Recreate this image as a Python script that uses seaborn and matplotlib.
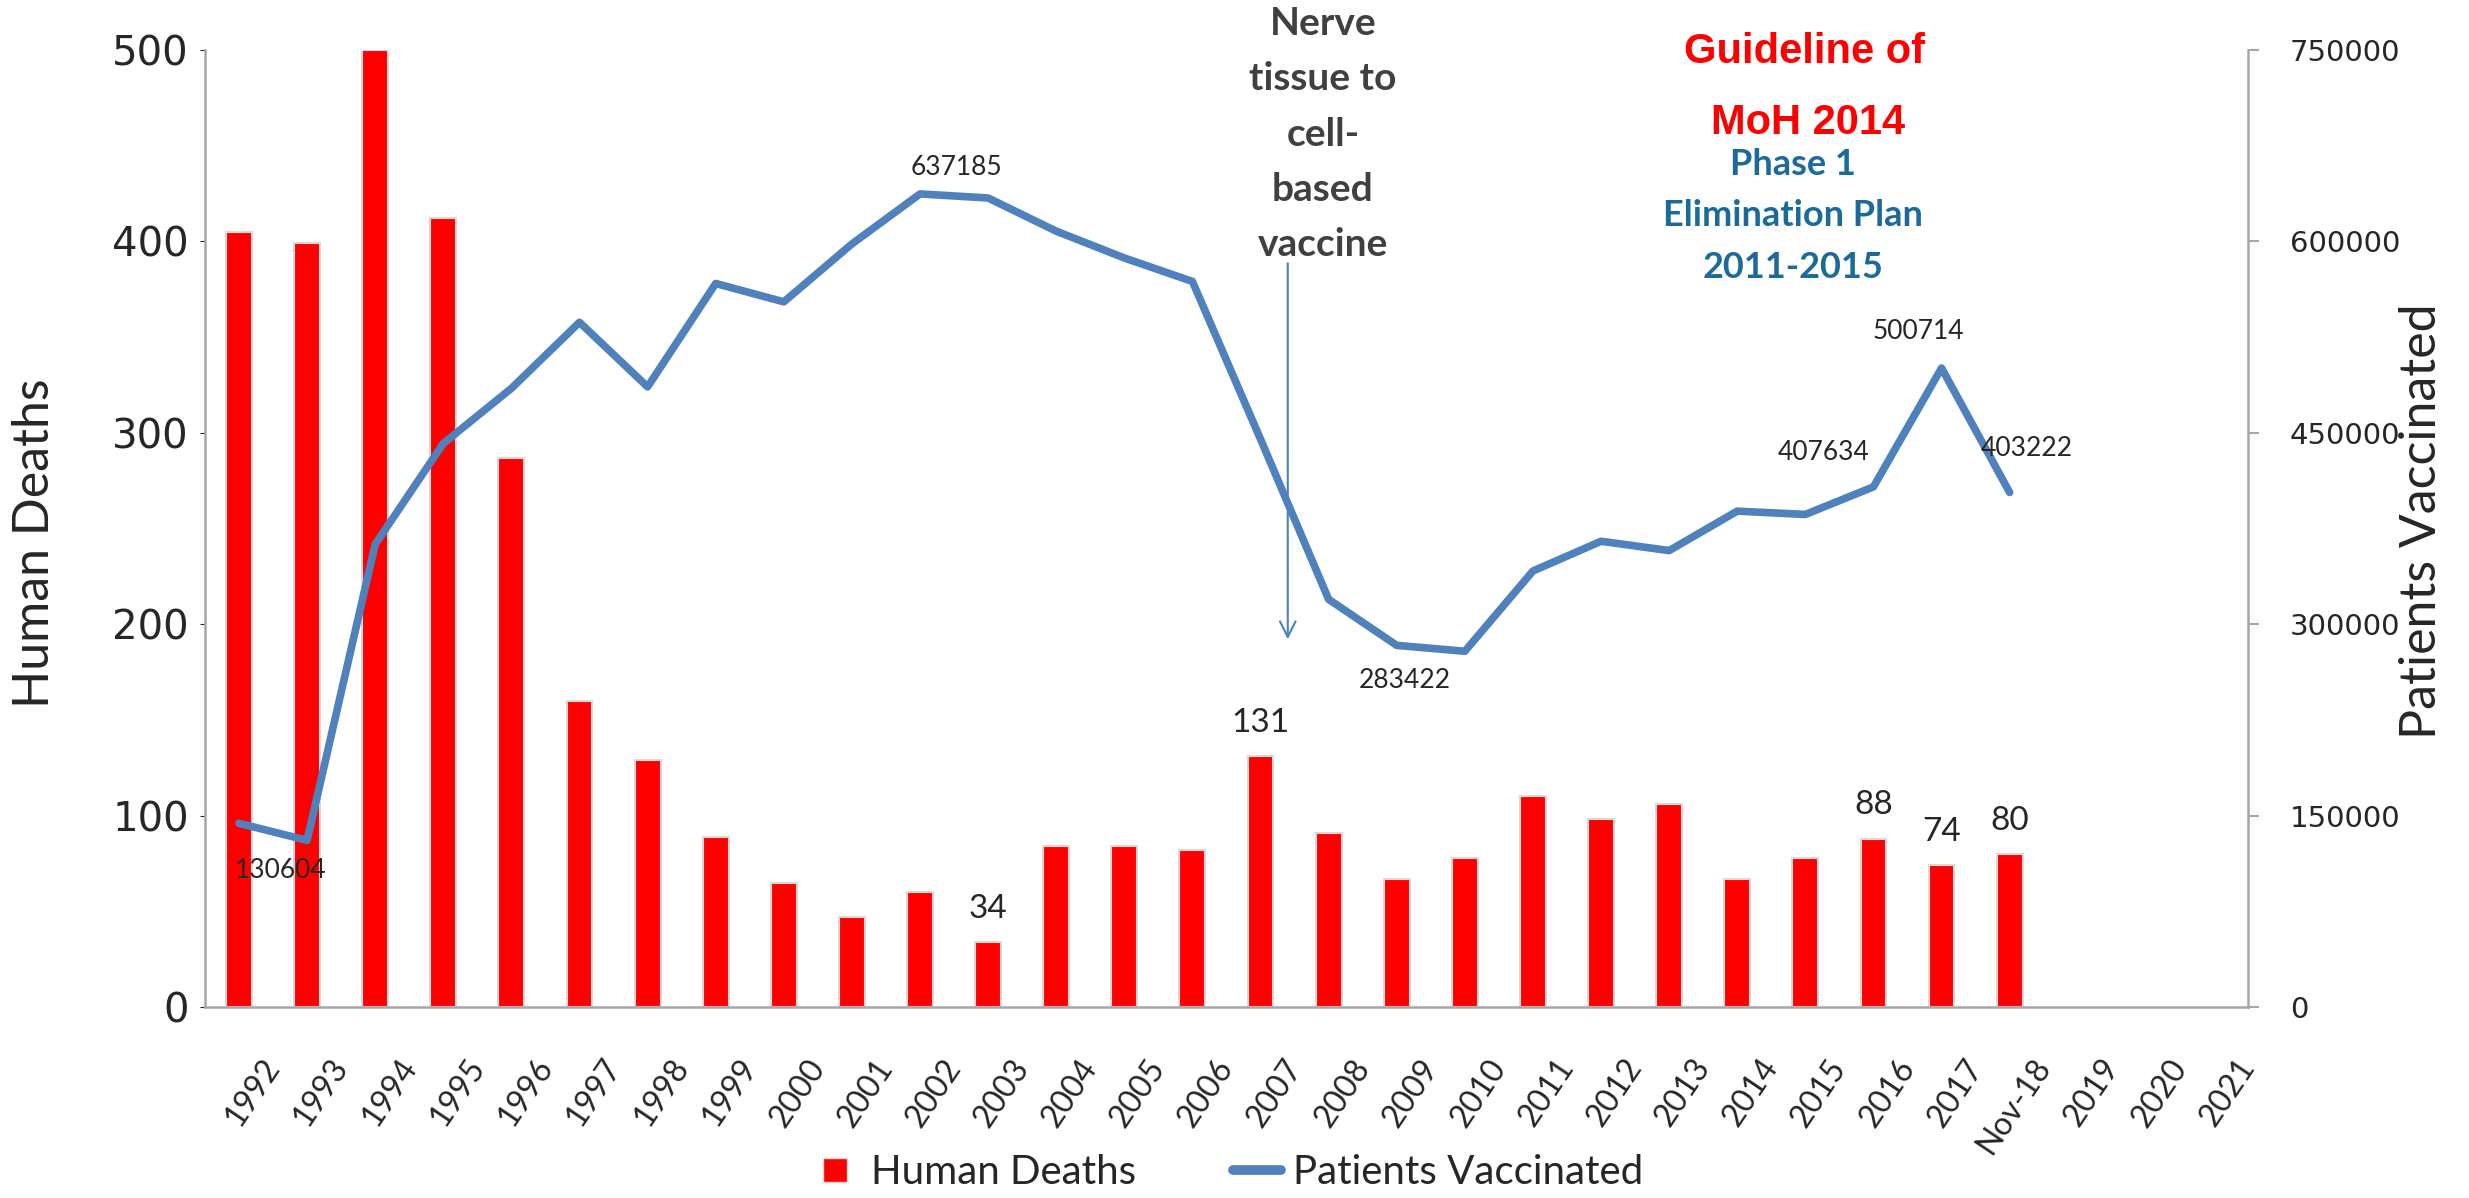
import matplotlib
matplotlib.use('Agg')
from matplotlib import pyplot as plt
from matplotlib.lines import Line2D
import matplotlib.transforms as mtransforms
import seaborn as sns
import pandas as pd
import numpy as np

# x categories (bars/line stop at Nov-18, the last three years are empty slots)
years = ['1992', '1993', '1994', '1995', '1996', '1997', '1998', '1999', '2000',
         '2001', '2002', '2003', '2004', '2005', '2006', '2007', '2008', '2009',
         '2010', '2011', '2012', '2013', '2014', '2015', '2016', '2017', 'Nov-18',
         '2019', '2020', '2021']
data_years = years[:27]

deaths = [405, 399, 500, 412, 287, 160, 129, 89, 65, 47, 60, 34, 84, 84, 82,
          131, 91, 67, 78, 110, 98, 106, 67, 78, 88, 74, 80]

vaccinated = [144000, 130604, 362600, 441600, 484800, 536600, 486000, 567000,
              552600, 598000, 637185, 634000, 608000, 587000, 568600, 445000,
              319500, 283422, 278800, 341700, 365000, 357700, 388600, 386000,
              407634, 500714, 403222]

death_label_years = ['2003', '2007', '2016', '2017', 'Nov-18']
vacc_label_years = ['1993', '2002', '2009', '2016', '2017', 'Nov-18']

left_ticks = [0, 100, 200, 300, 400, 500]
right_ticks = [0, 150000, 300000, 450000, 600000, 750000]

RED = '#FF0000'
BLUE = '#4F81BD'
TEAL = '#1A6B9B'
GREY = '#A6A6A6'

sns.set_style('white')
plt.rcParams['font.family'] = ['Lato', 'DejaVu Sans']

fig = plt.figure(figsize=(24.69, 11.98), dpi=100)
ax = fig.add_axes([0.083, 0.1594, 0.8275, 0.7989])

df = pd.DataFrame({'year': data_years, 'deaths': deaths})
sns.barplot(data=df, x='year', y='deaths', order=years, color=RED, saturation=1,
            width=0.38, edgecolor='#DADADA', linewidth=1.5, ax=ax)

ax.set_xlim(-0.5, len(years) - 0.5)
ax.set_ylim(0, 500)
ax.set_yticks(left_ticks)
ax.set_yticklabels([str(t) for t in left_ticks], family='DejaVu Sans', fontsize=29)
ax.set_xlabel('')
ax.set_ylabel('')
ax.set_xticks(range(len(years)))
ax.set_xticklabels(years, rotation=56, ha='right', va='top', rotation_mode='anchor',
                   fontsize=23)
ax.tick_params(axis='y', left=False, pad=8)
ax.tick_params(axis='x', bottom=False, pad=30)
shift = mtransforms.ScaledTranslation(16 / 72, 0, fig.dpi_scale_trans)
for lbl in ax.get_xticklabels():
    lbl.set_transform(lbl.get_transform() + shift)

for side in ['top', 'right']:
    ax.spines[side].set_visible(False)
for side in ['left', 'bottom']:
    ax.spines[side].set_color(GREY)
    ax.spines[side].set_linewidth(1.8)

# labels above selected bars
for yr in death_label_years:
    i = years.index(yr)
    v = deaths[data_years.index(yr)]
    ax.annotate(str(v), (i, v), xytext=(0, 24), textcoords='offset points',
                ha='center', va='center', fontsize=24)

# patients vaccinated on the right axis
ax2 = ax.twinx()
sns.lineplot(x=np.arange(len(vaccinated)), y=vaccinated, ax=ax2, color=BLUE,
             linewidth=5.5, solid_capstyle='round', solid_joinstyle='round')
ax2.set_xlim(-0.5, len(years) - 0.5)
ax2.set_ylim(0, 750000)
ax2.set_yticks(right_ticks)
ax2.set_yticklabels([str(t) for t in right_ticks], family='DejaVu Sans', fontsize=21)
ax2.set_ylabel('')
ax2.tick_params(axis='y', right=True, length=8, width=1.5, color=GREY, pad=22,
                direction='out')
for side in ['top', 'left', 'bottom']:
    ax2.spines[side].set_visible(False)
ax2.spines['right'].set_color(GREY)
ax2.spines['right'].set_linewidth(1.8)

offsets = {'1993': (-19, -22), '2002': (26, 19), '2009': (6, -25),
           '2016': (-36, 25), '2017': (-17, 26), 'Nov-18': (12, 32)}
for yr in vacc_label_years:
    i = years.index(yr)
    v = vaccinated[i]
    ax2.annotate(str(v), (i, v), xytext=offsets[yr], textcoords='offset points',
                 ha='center', va='center', fontsize=19)

# switch to cell-based vaccine marker
ax2.annotate('', xy=(15.4, 286000), xytext=(15.4, 585000),
             arrowprops=dict(arrowstyle='->', color=BLUE, lw=1.5, mutation_scale=28))

fig.text(1323 / 2469, 1 - 134 / 1198, 'Nerve\ntissue to\ncell-\nbased\nvaccine',
         ha='center', va='center', fontsize=28, weight='bold', color='#404040',
         linespacing=1.69)
fig.text(1805 / 2469, 1 - 52 / 1198, 'Guideline of', ha='center', va='center',
         fontsize=30, weight='bold', color=RED, family='Liberation Sans')
fig.text(1808 / 2469, 1 - 123 / 1198, 'MoH 2014', ha='center', va='center',
         fontsize=30, weight='bold', color=RED, family='Liberation Sans')
fig.text(1793 / 2469, 1 - 216 / 1198, 'Phase 1\nElimination Plan\n2011-2015',
         ha='center', va='center', fontsize=26, weight='bold', color=TEAL,
         linespacing=1.7)

fig.text(35 / 2469, 1 - 543 / 1198, 'Human Deaths', rotation=90, ha='center',
         va='center', fontsize=36)
fig.text(2422 / 2469, 1 - 521 / 1198, 'Patients Vaccinated', rotation=90,
         ha='center', va='center', fontsize=36)

handles = [Line2D([], [], marker='s', color=RED, linestyle='none', markersize=17,
                  markeredgecolor='#DADADA'),
           Line2D([], [], color=BLUE, lw=7, solid_capstyle='round')]
fig.legend(handles, ['Human Deaths', 'Patients Vaccinated'], loc='center',
           bbox_to_anchor=(0.497, 0.021), ncol=2, frameon=False,
           prop={'size': 29}, handlelength=1.2, handletextpad=0.3,
           columnspacing=2.4)

fig.savefig('out.png', dpi=100)
